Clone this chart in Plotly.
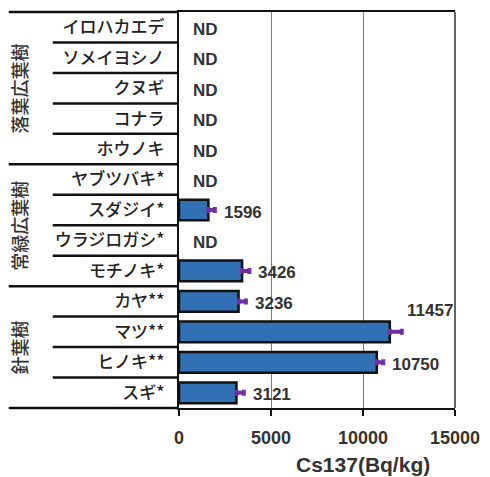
import plotly.graph_objects as go

# Tree species (top to bottom), Cs-137 concentration and its error
species = ["イロハカエデ", "ソメイヨシノ", "クヌギ", "コナラ", "ホウノキ",
           "ヤブツバキ*", "スダジイ*", "ウラジロガシ*", "モチノキ*",
           "カヤ**", "マツ**", "ヒノキ**", "スギ*"]
cs137 = [None, None, None, None, None,
         None, 1596, None, 3426,
         3236, 11457, 10750, 3121]
cs137_err = [0, 0, 0, 0, 0,
             0, 350, 0, 400,
             400, 650, 350, 400]

# Species groups: (label, first row, last row)
groups = [("落葉広葉樹", 0, 4), ("常緑広葉樹", 5, 8), ("針葉樹", 9, 12)]

x_ticks = [0, 5000, 10000, 15000]

W, H = 490, 477
L, R, T, B = 179, 29, 10, 69
PW, PH = W - L - R, H - T - B
n = len(species)


def px_x(px):
    return (px - L) / PW


def row_y(k):
    return 1 - k / n


rows = list(range(n))

fig = go.Figure()
fig.add_trace(go.Bar(
    y=rows, x=cs137, orientation="h", width=0.68,
    marker=dict(color="#3170b3", line=dict(color="#111111", width=2.5)),
    error_x=dict(type="data", array=cs137_err, arrayminus=[0] * n,
                 symmetric=False, color="#7030a0", thickness=4, width=3),
    hoverinfo="skip",
))

shapes = []
# table rules on the left: group borders run full width, inner rules are shorter
for k in range(n + 1):
    full = k in (0, 5, 9, 13)
    shapes.append(dict(type="line", xref="paper", yref="paper",
                       x0=px_x(5 if full else 50), x1=px_x(179),
                       y0=row_y(k), y1=row_y(k),
                       line=dict(color="#111111", width=2.5)))
# right frame line
shapes.append(dict(type="line", xref="paper", yref="paper", x0=1, x1=1, y0=0, y1=1,
                   line=dict(color="#333333", width=1.5)))

annotations = []
for i, (v, e) in enumerate(zip(cs137, cs137_err)):
    if v is None:
        annotations.append(dict(x=0, y=i, xref="x", yref="y", text="ND",
                                showarrow=False, xanchor="left", xshift=12, yshift=-2,
                                font=dict(family="Liberation Sans", size=17,
                                          color="#333333", weight="bold")))
    else:
        big = v > 11000
        annotations.append(dict(x=v + e, y=i, xref="x", yref="y", text=str(v),
                                showarrow=False, xanchor="left",
                                xshift=3 if big else 7, yshift=21 if big else -2,
                                font=dict(family="Liberation Sans", size=17,
                                          color="#333333", weight="bold")))

for name, a, b in groups:
    yc = (row_y(a) + row_y(b + 1)) / 2
    annotations.append(dict(x=px_x(16), y=yc, xref="paper", yref="paper", text=name,
                            showarrow=False, textangle=-90, xanchor="center", yanchor="middle",
                            font=dict(family="Noto Sans CJK JP", size=18, color="#333333",
                                      weight=500)))

annotations.append(dict(x=px_x(367), y=(408 - 465) / PH, xref="paper", yref="paper",
                        text="Cs137(Bq/kg)", showarrow=False, xanchor="center", yanchor="middle",
                        font=dict(family="Liberation Sans", size=21, color="#333333",
                                  weight="bold")))

fig.update_layout(
    width=W, height=H,
    margin=dict(l=L, r=R, t=T, b=B, pad=0),
    paper_bgcolor="white", plot_bgcolor="white",
    showlegend=False, bargap=0.3,
    shapes=shapes, annotations=annotations,
    xaxis=dict(range=[0, 15000], tickvals=x_ticks, ticktext=[str(t) for t in x_ticks],
               showgrid=True, gridcolor="#85766f", gridwidth=1,
               showline=True, linecolor="#111111", linewidth=2, mirror=True,
               ticks="outside", ticklen=6, tickwidth=2, tickcolor="#111111",
               ticklabelstandoff=6, zeroline=False,
               tickfont=dict(family="Liberation Sans", size=18, color="#333333",
                             weight="bold")),
    yaxis=dict(range=[n - 0.5, -0.5], tickvals=rows, ticktext=species,
               showgrid=False, zeroline=False,
               showline=True, linecolor="#111111", linewidth=2,
               ticks="", ticklabelstandoff=9,
               tickfont=dict(family="Noto Sans CJK JP", size=17, color="#222222",
                             weight=500)),
)

fig.write_html("out.html")
